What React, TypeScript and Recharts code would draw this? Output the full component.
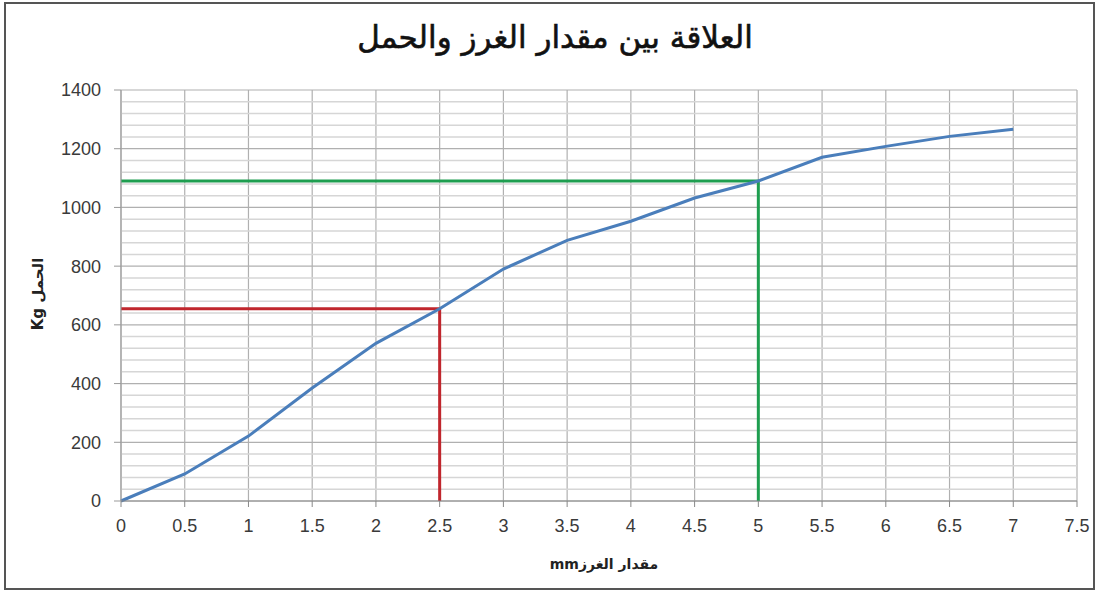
import {
  LineChart,
  Line,
  XAxis,
  YAxis,
  CartesianGrid,
  ReferenceLine,
} from "recharts";

// stitch length (mm) against load (kg)
const stitchMm = [0, 0.5, 1, 1.5, 2, 2.5, 3, 3.5, 4, 4.5, 5, 5.5, 6, 6.5, 7];
const loadKg = [0, 92, 221, 385, 537, 655, 790, 888, 953, 1032, 1090, 1171, 1208, 1242, 1266];

// guide lines
const redGuideX = [0, 2.5, 2.5];
const redGuideY = [655, 655, 0];
const greenGuideX = [0, 5, 5];
const greenGuideY = [1090, 1090, 0];

const xTicks = [0, 0.5, 1, 1.5, 2, 2.5, 3, 3.5, 4, 4.5, 5, 5.5, 6, 6.5, 7, 7.5];
const yTicks = [0, 200, 400, 600, 800, 1000, 1200, 1400];
const minorTicks = [
  40, 80, 120, 160, 240, 280, 320, 360, 440, 480, 520, 560, 640, 680, 720, 760,
  840, 880, 920, 960, 1040, 1080, 1120, 1160, 1240, 1280, 1320, 1360,
];

const curve = stitchMm.map((x, i) => ({ x, y: loadKg[i] }));
const redGuide = redGuideX.map((x, i) => ({ x, y: redGuideY[i] }));
const greenGuide = greenGuideX.map((x, i) => ({ x, y: greenGuideY[i] }));

const arabicFont = "'DejaVu Sans', 'Noto Sans', sans-serif";
const tickStyle = { fontSize: 18, fill: "#3a3a3a", fontFamily: "'Liberation Sans', Arial, sans-serif" };

export default function App() {
  return (
    <div style={{ position: "absolute", left: 0, top: 0, width: 1100, height: 590, background: "#fff" }}>
      <div
        style={{
          position: "absolute",
          left: 4,
          top: 2,
          width: 1087,
          height: 584,
          border: "2px solid #555",
        }}
      />
      <div
        dir="rtl"
        style={{
          position: "absolute",
          top: 19,
          left: 0,
          width: 1110,
          textAlign: "center",
          fontFamily: arabicFont,
          fontSize: 31,
          color: "#111",
          WebkitTextStroke: "0.6px #111",
        }}
      >
        العلاقة بين مقدار الغرز والحمل
      </div>

      <LineChart
        width={1100}
        height={590}
        data={curve}
        margin={{ top: 90, right: 23, left: 0, bottom: 0 }}
      >
        {minorTicks.map((v) => (
          <ReferenceLine key={v} y={v} stroke="#d6d6d6" strokeWidth={1.5} />
        ))}
        <CartesianGrid stroke="#b0b0b0" strokeWidth={1.2} />
        <XAxis
          dataKey="x"
          type="number"
          domain={[0, 7.5]}
          ticks={xTicks}
          interval={0}
          height={89}
          tickSize={6}
          tickMargin={12}
          tick={tickStyle}
          stroke="#888"
        />
        <YAxis
          type="number"
          domain={[0, 1400]}
          ticks={yTicks}
          interval={0}
          width={121}
          tickSize={7}
          tickMargin={13}
          tick={tickStyle}
          stroke="#999"
        />
        <Line
          data={redGuide}
          dataKey="y"
          type="linear"
          stroke="#c0262d"
          strokeWidth={3}
          dot={false}
          isAnimationActive={false}
        />
        <Line
          data={greenGuide}
          dataKey="y"
          type="linear"
          stroke="#1e9e50"
          strokeWidth={3}
          dot={false}
          isAnimationActive={false}
        />
        <Line
          dataKey="y"
          type="linear"
          stroke="#4a7ebb"
          strokeWidth={3}
          dot={false}
          isAnimationActive={false}
        />
      </LineChart>

      <div
        dir="rtl"
        style={{
          position: "absolute",
          top: 556,
          left: 0,
          width: 1208,
          textAlign: "center",
          fontFamily: arabicFont,
          fontWeight: "bold",
          fontSize: 14,
          color: "#222",
        }}
      >
        مقدار الغرزmm
      </div>
      <div
        style={{
          position: "absolute",
          left: 38,
          top: 294,
          transform: "translate(-50%, -50%) rotate(-90deg)",
          whiteSpace: "nowrap",
          fontFamily: arabicFont,
          fontWeight: "bold",
          fontSize: 15,
          color: "#222",
        }}
      >
        Kg الحمل
      </div>
    </div>
  );
}
